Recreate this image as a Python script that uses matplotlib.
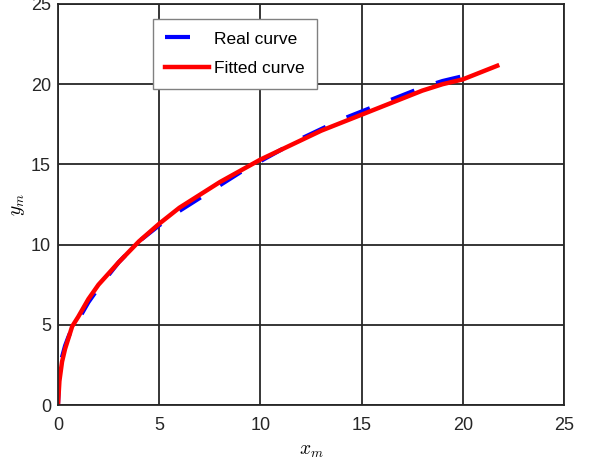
import matplotlib
matplotlib.use('Agg')
import matplotlib.pyplot as plt

plt.rcParams['font.family'] = ['Liberation Sans', 'DejaVu Sans']
plt.rcParams['mathtext.fontset'] = 'cm'

# fitted curve
fit_x = [0, 0.07, 0.2, 0.35, 0.5, 0.7, 1, 1.5, 2, 3, 4, 5, 6, 7, 8, 9, 10,
         11, 12, 13, 14, 15, 16, 17, 18, 19, 20, 21, 21.7]
fit_y = [0, 1.5, 2.7, 3.5, 4.1, 4.9, 5.5, 6.6, 7.5, 8.9, 10.2, 11.3, 12.3, 13.1, 13.9, 14.6, 15.3,
         15.9, 16.5, 17.1, 17.6, 18.1, 18.6, 19.1, 19.6, 20.0, 20.3, 20.8, 21.15]

# real curve
real_x = [0, 0.05, 0.2, 0.35, 0.5, 0.7, 1, 1.5, 2, 3, 4, 5, 6, 7, 8, 9, 10,
          11, 12, 13, 14, 15, 16, 17, 18, 19, 20, 20.5]
real_y = [0, 1.6, 3.0, 3.7, 4.2, 4.8, 5.3, 6.4, 7.3, 8.9, 10.2, 11.2, 12.1, 12.9, 13.7, 14.5, 15.2,
          15.9, 16.6, 17.2, 17.8, 18.3, 18.8, 19.3, 19.8, 20.2, 20.5, 20.7]

fig = plt.figure(figsize=(5.94, 4.63), dpi=100)
ax = fig.add_axes([58/594, 1 - 405/463, (564 - 58)/594, (405 - 4)/463])

ax.plot(real_x, real_y, color='blue', lw=3.0, linestyle=(0, (6, 5.5)), label='Real curve')
ax.plot(fit_x, fit_y, color='red', lw=3.2, label='Fitted curve')

ax.set_xlim(0, 25)
ax.set_ylim(0, 25)
ax.set_xticks(range(0, 26, 5))
ax.set_yticks(range(0, 26, 5))
ax.grid(True, color='#262626', lw=1.3)
ax.set_axisbelow(True)
for s in ax.spines.values():
    s.set_color('#262626')
    s.set_linewidth(1.3)
ax.tick_params(direction='in', labelsize=13, colors='#262626', length=0)
ax.tick_params(axis='x', pad=9)
ax.tick_params(axis='y', pad=5)

ax.set_xlabel('$x_m$', fontsize=14, labelpad=6)
ax.set_ylabel('$y_m$', fontsize=14, labelpad=3)

leg = ax.legend(loc='upper left', bbox_to_anchor=(0.188, 0.962), fontsize=12.5,
                fancybox=False, framealpha=1, edgecolor='#808080', handlelength=2.5,
                handletextpad=0.3, borderpad=0.7, labelspacing=0.85, borderaxespad=0)
leg.get_frame().set_linewidth(1.0)

fig.savefig('out.png', dpi=100)
